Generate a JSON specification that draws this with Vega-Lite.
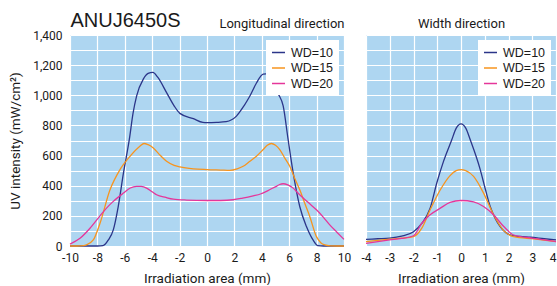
{
  "$schema": "https://vega.github.io/schema/vega-lite/v6.json",
  "padding": {"left": 8, "top": 10, "right": 0, "bottom": 0},
  "background": "white",
  "config": {
    "view": {"stroke": null, "fill": "#aed6f1"},
    "font": "Roboto",
    "axis": {
      "labelFont": "Roboto",
      "labelFontSize": 12,
      "labelColor": "#1a1a1a",
      "titleFont": "Roboto",
      "titleFontSize": 13.5,
      "titleFontWeight": "normal",
      "titleColor": "#1a1a1a",
      "ticks": false,
      "domain": false,
      "gridColor": "white",
      "gridOpacity": 1,
      "gridWidth": 1.2,
      "labelOverlap": false,
      "labelFlush": false
    },
    "title": {"fontWeight": "normal", "color": "#1a1a1a"}
  },
  "datasets": {
    "long": [
      {"x": -10, "v": 0, "wd": "WD=10"}, {"x": -9, "v": 0, "wd": "WD=10"}, {"x": -8, "v": 0, "wd": "WD=10"},
      {"x": -7.6, "v": 2, "wd": "WD=10"}, {"x": -7.2, "v": 40, "wd": "WD=10"}, {"x": -6.84, "v": 107, "wd": "WD=10"},
      {"x": -6.48, "v": 262, "wd": "WD=10"}, {"x": -6.1, "v": 484, "wd": "WD=10"}, {"x": -5.67, "v": 707, "wd": "WD=10"},
      {"x": -5.4, "v": 880, "wd": "WD=10"}, {"x": -5.14, "v": 995, "wd": "WD=10"}, {"x": -4.65, "v": 1107, "wd": "WD=10"},
      {"x": -4.3, "v": 1145, "wd": "WD=10"}, {"x": -3.95, "v": 1152, "wd": "WD=10"}, {"x": -3.6, "v": 1120, "wd": "WD=10"},
      {"x": -2.95, "v": 1018, "wd": "WD=10"}, {"x": -2.4, "v": 930, "wd": "WD=10"}, {"x": -1.98, "v": 880, "wd": "WD=10"},
      {"x": -1.0, "v": 845, "wd": "WD=10"}, {"x": -0.3, "v": 820, "wd": "WD=10"}, {"x": 0, "v": 818, "wd": "WD=10"},
      {"x": 0.7, "v": 820, "wd": "WD=10"}, {"x": 1.4, "v": 825, "wd": "WD=10"}, {"x": 2.15, "v": 862, "wd": "WD=10"},
      {"x": 2.7, "v": 930, "wd": "WD=10"}, {"x": 3.13, "v": 995, "wd": "WD=10"}, {"x": 3.6, "v": 1080, "wd": "WD=10"},
      {"x": 4.1, "v": 1140, "wd": "WD=10"}, {"x": 4.3, "v": 1142, "wd": "WD=10"}, {"x": 4.6, "v": 1115, "wd": "WD=10"},
      {"x": 4.83, "v": 1085, "wd": "WD=10"}, {"x": 5.2, "v": 1010, "wd": "WD=10"}, {"x": 5.56, "v": 929, "wd": "WD=10"},
      {"x": 5.92, "v": 707, "wd": "WD=10"}, {"x": 6.3, "v": 480, "wd": "WD=10"}, {"x": 6.77, "v": 262, "wd": "WD=10"},
      {"x": 7.26, "v": 129, "wd": "WD=10"}, {"x": 7.74, "v": 40, "wd": "WD=10"}, {"x": 8.1, "v": 2, "wd": "WD=10"},
      {"x": 8.5, "v": 0, "wd": "WD=10"}, {"x": 9, "v": 0, "wd": "WD=10"}, {"x": 10, "v": 0, "wd": "WD=10"},

      {"x": -10, "v": 0, "wd": "WD=15"}, {"x": -9.5, "v": 0, "wd": "WD=15"}, {"x": -9, "v": 3, "wd": "WD=15"},
      {"x": -8.8, "v": 8, "wd": "WD=15"}, {"x": -8.3, "v": 40, "wd": "WD=15"}, {"x": -7.81, "v": 151, "wd": "WD=15"},
      {"x": -7.08, "v": 373, "wd": "WD=15"}, {"x": -6.35, "v": 507, "wd": "WD=15"}, {"x": -5.62, "v": 595, "wd": "WD=15"},
      {"x": -4.9, "v": 662, "wd": "WD=15"}, {"x": -4.6, "v": 680, "wd": "WD=15"}, {"x": -4.3, "v": 672, "wd": "WD=15"},
      {"x": -3.92, "v": 651, "wd": "WD=15"}, {"x": -3.4, "v": 600, "wd": "WD=15"}, {"x": -2.95, "v": 562, "wd": "WD=15"},
      {"x": -2.4, "v": 535, "wd": "WD=15"}, {"x": -1.98, "v": 525, "wd": "WD=15"}, {"x": -1, "v": 512, "wd": "WD=15"},
      {"x": 0, "v": 507, "wd": "WD=15"}, {"x": 1, "v": 504, "wd": "WD=15"}, {"x": 1.67, "v": 502, "wd": "WD=15"},
      {"x": 2.2, "v": 512, "wd": "WD=15"}, {"x": 2.64, "v": 529, "wd": "WD=15"}, {"x": 3.1, "v": 560, "wd": "WD=15"},
      {"x": 3.61, "v": 595, "wd": "WD=15"}, {"x": 4.1, "v": 640, "wd": "WD=15"}, {"x": 4.4, "v": 668, "wd": "WD=15"},
      {"x": 4.7, "v": 680, "wd": "WD=15"}, {"x": 5.0, "v": 668, "wd": "WD=15"}, {"x": 5.31, "v": 640, "wd": "WD=15"},
      {"x": 5.7, "v": 580, "wd": "WD=15"}, {"x": 6.04, "v": 529, "wd": "WD=15"}, {"x": 6.4, "v": 450, "wd": "WD=15"},
      {"x": 6.77, "v": 373, "wd": "WD=15"}, {"x": 7.15, "v": 280, "wd": "WD=15"}, {"x": 7.5, "v": 196, "wd": "WD=15"},
      {"x": 7.99, "v": 62, "wd": "WD=15"}, {"x": 8.3, "v": 22, "wd": "WD=15"}, {"x": 8.6, "v": 7, "wd": "WD=15"},
      {"x": 9, "v": 1, "wd": "WD=15"}, {"x": 9.5, "v": 0, "wd": "WD=15"}, {"x": 10, "v": 0, "wd": "WD=15"},

      {"x": -10, "v": 13, "wd": "WD=20"}, {"x": -9.27, "v": 51, "wd": "WD=20"}, {"x": -8.54, "v": 118, "wd": "WD=20"},
      {"x": -7.81, "v": 200, "wd": "WD=20"}, {"x": -7.3, "v": 255, "wd": "WD=20"}, {"x": -6.84, "v": 296, "wd": "WD=20"},
      {"x": -6.1, "v": 351, "wd": "WD=20"}, {"x": -5.6, "v": 385, "wd": "WD=20"}, {"x": -5.14, "v": 396, "wd": "WD=20"},
      {"x": -4.8, "v": 395, "wd": "WD=20"}, {"x": -4.41, "v": 384, "wd": "WD=20"}, {"x": -4.0, "v": 360, "wd": "WD=20"},
      {"x": -3.68, "v": 340, "wd": "WD=20"}, {"x": -3.0, "v": 322, "wd": "WD=20"}, {"x": -2.46, "v": 311, "wd": "WD=20"},
      {"x": -1.5, "v": 305, "wd": "WD=20"}, {"x": 0, "v": 302, "wd": "WD=20"}, {"x": 1, "v": 302, "wd": "WD=20"},
      {"x": 1.91, "v": 307, "wd": "WD=20"}, {"x": 2.6, "v": 318, "wd": "WD=20"}, {"x": 3.37, "v": 333, "wd": "WD=20"},
      {"x": 3.9, "v": 345, "wd": "WD=20"}, {"x": 4.34, "v": 362, "wd": "WD=20"}, {"x": 4.7, "v": 380, "wd": "WD=20"},
      {"x": 5.07, "v": 396, "wd": "WD=20"}, {"x": 5.3, "v": 408, "wd": "WD=20"}, {"x": 5.56, "v": 413, "wd": "WD=20"},
      {"x": 5.9, "v": 405, "wd": "WD=20"}, {"x": 6.29, "v": 384, "wd": "WD=20"}, {"x": 6.6, "v": 355, "wd": "WD=20"},
      {"x": 7.02, "v": 318, "wd": "WD=20"}, {"x": 7.5, "v": 280, "wd": "WD=20"}, {"x": 7.99, "v": 240, "wd": "WD=20"},
      {"x": 8.5, "v": 190, "wd": "WD=20"}, {"x": 8.96, "v": 140, "wd": "WD=20"}, {"x": 9.5, "v": 90, "wd": "WD=20"},
      {"x": 10, "v": 44, "wd": "WD=20"}
    ],
    "wid": [
      {"x": -4, "v": 44, "wd": "WD=10"}, {"x": -3.5, "v": 48, "wd": "WD=10"}, {"x": -3, "v": 52, "wd": "WD=10"},
      {"x": -2.5, "v": 65, "wd": "WD=10"}, {"x": -2, "v": 95, "wd": "WD=10"}, {"x": -1.65, "v": 150, "wd": "WD=10"},
      {"x": -1.3, "v": 250, "wd": "WD=10"}, {"x": -1.02, "v": 418, "wd": "WD=10"}, {"x": -0.74, "v": 560, "wd": "WD=10"},
      {"x": -0.4, "v": 700, "wd": "WD=10"}, {"x": -0.2, "v": 782, "wd": "WD=10"}, {"x": 0, "v": 810, "wd": "WD=10"},
      {"x": 0.2, "v": 782, "wd": "WD=10"}, {"x": 0.4, "v": 700, "wd": "WD=10"}, {"x": 0.81, "v": 507, "wd": "WD=10"},
      {"x": 1.02, "v": 380, "wd": "WD=10"}, {"x": 1.23, "v": 262, "wd": "WD=10"}, {"x": 1.45, "v": 180, "wd": "WD=10"},
      {"x": 1.65, "v": 129, "wd": "WD=10"}, {"x": 2.08, "v": 73, "wd": "WD=10"}, {"x": 2.5, "v": 63, "wd": "WD=10"},
      {"x": 2.92, "v": 58, "wd": "WD=10"}, {"x": 3.5, "v": 48, "wd": "WD=10"}, {"x": 4, "v": 40, "wd": "WD=10"},

      {"x": -4, "v": 29, "wd": "WD=15"}, {"x": -3, "v": 45, "wd": "WD=15"}, {"x": -2.5, "v": 52, "wd": "WD=15"},
      {"x": -2, "v": 62, "wd": "WD=15"}, {"x": -1.65, "v": 118, "wd": "WD=15"}, {"x": -1.3, "v": 240, "wd": "WD=15"},
      {"x": -0.87, "v": 373, "wd": "WD=15"}, {"x": -0.46, "v": 467, "wd": "WD=15"}, {"x": -0.2, "v": 500, "wd": "WD=15"},
      {"x": 0, "v": 507, "wd": "WD=15"}, {"x": 0.2, "v": 500, "wd": "WD=15"}, {"x": 0.53, "v": 462, "wd": "WD=15"},
      {"x": 0.95, "v": 351, "wd": "WD=15"}, {"x": 1.37, "v": 207, "wd": "WD=15"}, {"x": 1.8, "v": 102, "wd": "WD=15"},
      {"x": 2.22, "v": 62, "wd": "WD=15"}, {"x": 3.06, "v": 47, "wd": "WD=15"}, {"x": 4, "v": 29, "wd": "WD=15"},

      {"x": -4, "v": 18, "wd": "WD=20"}, {"x": -3, "v": 40, "wd": "WD=20"}, {"x": -2.5, "v": 50, "wd": "WD=20"},
      {"x": -2, "v": 68, "wd": "WD=20"}, {"x": -1.65, "v": 151, "wd": "WD=20"}, {"x": -1.3, "v": 207, "wd": "WD=20"},
      {"x": -0.87, "v": 251, "wd": "WD=20"}, {"x": -0.46, "v": 289, "wd": "WD=20"}, {"x": 0, "v": 302, "wd": "WD=20"},
      {"x": 0.53, "v": 293, "wd": "WD=20"}, {"x": 0.95, "v": 262, "wd": "WD=20"}, {"x": 1.37, "v": 207, "wd": "WD=20"},
      {"x": 1.8, "v": 129, "wd": "WD=20"}, {"x": 2.22, "v": 73, "wd": "WD=20"}, {"x": 3.06, "v": 51, "wd": "WD=20"},
      {"x": 4, "v": 29, "wd": "WD=20"}
    ]
  },
  "spacing": 22,
  "bounds": "flush",
  "resolve": {"scale": {"x": "independent", "color": "independent"}, "legend": {"color": "independent"}},
  "hconcat": [
    {
      "width": 274,
      "height": 211,
      "data": {"name": "long"},
      "resolve": {"axis": {"x": "independent"}},
      "layer": [
        {
          "mark": {"type": "line", "interpolate": "monotone", "strokeWidth": 1.3},
          "encoding": {
            "x": {"field": "x", "type": "quantitative", "scale": {"domain": [-10, 10], "nice": false},
              "axis": {"values": [-10, -8, -6, -4, -2, 0, 2, 4, 6, 8, 10], "labelExpr": "replace(datum.label, '−', '-')",
                "title": "Irradiation area (mm)", "labelPadding": 6, "titlePadding": 8, "grid": true}},
            "y": {"field": "v", "type": "quantitative", "scale": {"domain": [0, 1400], "nice": false},
              "axis": {"values": [0, 100, 200, 300, 400, 500, 600, 700, 800, 900, 1000, 1100, 1200, 1300, 1400],
                "labelExpr": "datum.value % 200 == 0 ? format(datum.value, ',') : ''",
                "title": "UV intensity (mW/cm²)", "labelPadding": 8, "titlePadding": 10, "grid": true}},
            "color": {"field": "wd", "type": "nominal",
              "scale": {"domain": ["WD=10", "WD=15", "WD=20"], "range": ["#2b3589", "#f7941e", "#e5369a"]},
              "legend": {"orient": "top-right", "offset": 5, "title": null, "fillColor": "white", "padding": 5,
                "symbolType": "stroke", "symbolSize": 169, "symbolStrokeWidth": 1.5, "labelFont": "Liberation Sans",
                "labelFontSize": 12.5, "labelColor": "#1a1a1a", "rowPadding": 1.5, "labelOffset": 5}}
          }
        },
        {
          "mark": {"type": "rule", "opacity": 0},
          "encoding": {
            "x": {"datum": 0, "type": "quantitative",
              "axis": {"orient": "top", "title": "ANUJ6450S", "titleAnchor": "start", "titleAlign": "left", "titleFont": "Liberation Sans", "titleFontSize": 20,
                "titleBaseline": "alphabetic", "labels": false, "ticks": false, "domain": false, "grid": false, "titlePadding": 8.5}}
          }
        },
        {
          "mark": {"type": "rule", "opacity": 0},
          "encoding": {
            "x": {"datum": 0, "type": "quantitative",
              "axis": {"orient": "top", "title": "Longitudinal direction", "titleAnchor": "end", "titleAlign": "right", "titleFontSize": 13,
                "titleBaseline": "alphabetic", "labels": false, "ticks": false, "domain": false, "grid": false, "titlePadding": 8}}
          }
        }
      ]
    },
    {
      "width": 190,
      "height": 211,
      "data": {"name": "wid"},
      "resolve": {"axis": {"x": "independent"}},
      "layer": [
        {
          "mark": {"type": "line", "interpolate": "monotone", "strokeWidth": 1.3},
          "encoding": {
            "x": {"field": "x", "type": "quantitative", "scale": {"domain": [-4, 4], "nice": false},
              "axis": {"values": [-4, -3, -2, -1, 0, 1, 2, 3, 4], "labelExpr": "replace(datum.label, '−', '-')",
                "labelAlign": {"condition": {"test": "datum.value == 4", "value": "right"}, "value": "center"},
                "title": "Irradiation area (mm)", "labelPadding": 6, "titlePadding": 8, "grid": true}},
            "y": {"field": "v", "type": "quantitative", "scale": {"domain": [0, 1400], "nice": false},
              "axis": {"values": [0, 100, 200, 300, 400, 500, 600, 700, 800, 900, 1000, 1100, 1200, 1300, 1400],
                "labels": false, "title": null, "grid": true}},
            "color": {"field": "wd", "type": "nominal",
              "scale": {"domain": ["WD=10", "WD=15", "WD=20"], "range": ["#2b3589", "#f7941e", "#e5369a"]},
              "legend": {"orient": "top-right", "offset": 5, "title": null, "fillColor": "white", "padding": 5,
                "symbolType": "stroke", "symbolSize": 169, "symbolStrokeWidth": 1.5, "labelFont": "Liberation Sans",
                "labelFontSize": 12.5, "labelColor": "#1a1a1a", "rowPadding": 1.5, "labelOffset": 5}}
          }
        },
        {
          "mark": {"type": "rule", "opacity": 0},
          "encoding": {
            "x": {"datum": 0, "type": "quantitative",
              "axis": {"orient": "top", "title": "Width direction", "titleAnchor": "middle", "titleFontSize": 13,
                "titleBaseline": "alphabetic", "labels": false, "ticks": false, "domain": false, "grid": false, "titlePadding": 8}}
          }
        }
      ]
    }
  ]
}
